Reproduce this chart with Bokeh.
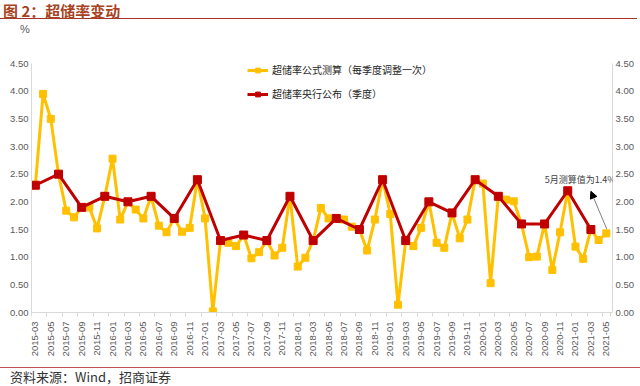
import math
from bokeh.plotting import figure
from bokeh.models import (Range1d, FixedTicker, LinearAxis, Legend, LegendItem,
                          Label, Arrow, NormalHead, Div)
from bokeh.layouts import column
from bokeh.embed import file_html
from bokeh.resources import INLINE

# ---------------- data ----------------
months = [f"{y}-{m:02d}" for y in range(2015, 2022) for m in range(1, 13)]
months = months[months.index("2015-03"):months.index("2021-05") + 1]

formula_rate = [
    2.30, 3.95, 3.50, 2.50, 1.84, 1.72, 1.90, 1.90, 1.52, 2.10,   # 2015-03..2015-12
    2.78, 1.68, 2.00, 1.86, 1.70, 2.10, 1.57, 1.45, 1.70, 1.46, 1.53, 2.40,  # 2016
    1.70, 0.02, 1.30, 1.26, 1.20, 1.40, 0.98, 1.09, 1.30, 1.03, 1.17, 2.10,  # 2017
    0.83, 0.99, 1.30, 1.89, 1.70, 1.70, 1.68, 1.55, 1.50, 1.12, 1.68, 2.40,  # 2018
    1.78, 0.14, 1.30, 1.20, 1.53, 2.00, 1.26, 1.17, 1.80, 1.34, 1.68, 2.40,  # 2019
    2.33, 0.53, 2.10, 2.04, 2.01, 1.60, 1.00, 1.01, 1.60, 0.77, 1.45, 2.20,  # 2020
    1.19, 0.97, 1.50, 1.31, 1.43,                                           # 2021
]

pboc_months = [
    "2015-03", "2015-06", "2015-09", "2015-12",
    "2016-03", "2016-06", "2016-09", "2016-12",
    "2017-03", "2017-06", "2017-09", "2017-12",
    "2018-03", "2018-06", "2018-09", "2018-12",
    "2019-03", "2019-06", "2019-09", "2019-12",
    "2020-03", "2020-06", "2020-09", "2020-12",
    "2021-03",
]
pboc_rate = [
    2.3, 2.5, 1.9, 2.1,
    2.0, 2.1, 1.7, 2.4,
    1.3, 1.4, 1.3, 2.1,
    1.3, 1.7, 1.5, 2.4,
    1.3, 2.0, 1.8, 2.4,
    2.1, 1.6, 1.6, 2.2,
    1.5,
]

y_ticks = [0.0, 0.5, 1.0, 1.5, 2.0, 2.5, 3.0, 3.5, 4.0, 4.5]

series1_name = "超储率公式测算（每季度调整一次）"
series2_name = "超储率央行公布（季度）"
title_text = "图 2：超储率变动"
source_text = "资料来源：Wind，招商证券"
note_text = "5月测算值为1.4%"
unit_text = "%"

# ---------------- figure ----------------
x1 = list(range(len(months)))
x2 = [months.index(m) for m in pboc_months]

YELLOW = "#FFC000"
RED = "#C00000"
GRAY = "#595959"
AXIS = "#D9D9D9"
CJK = "Noto Sans CJK SC"

p = figure(width=640, height=327, output_backend="svg", toolbar_location=None,
           x_range=Range1d(-0.5, 74.8), y_range=Range1d(0, 4.5),
           min_border_top=26, min_border_bottom=52, min_border_left=31,
           min_border_right=28)
p.outline_line_color = None
p.grid.visible = False
p.background_fill_color = "white"
p.border_fill_color = "white"

l1 = p.line(x1, formula_rate, line_color=YELLOW, line_width=3)
s1 = p.scatter(x1, formula_rate, marker="square", size=7,
               fill_color=YELLOW, line_color=YELLOW)
l2 = p.line(x2, pboc_rate, line_color=RED, line_width=3)
s2 = p.scatter(x2, pboc_rate, marker="square", size=8,
               fill_color=RED, line_color=RED)

even = list(range(0, len(months), 2))
xt = FixedTicker(ticks=even, minor_ticks=[i - 0.5 for i in even] + [len(months) - 0.5])
xa = p.xaxis[0]
xa.ticker = xt
xa.major_label_overrides = {i: months[i] for i in even}
xa.major_label_orientation = math.pi / 2
xa.major_label_text_font_size = "9.5px"
xa.major_label_text_font = "Liberation Sans"
xa.major_label_text_color = GRAY
xa.major_label_standoff = 5
xa.major_tick_out = 0
xa.major_tick_in = 0
xa.minor_tick_out = 4
xa.minor_tick_in = 0
xa.minor_tick_line_color = AXIS
xa.axis_line_color = AXIS

def style_y(ax):
    ax.ticker = FixedTicker(ticks=y_ticks)
    ax.major_label_overrides = {t: f"{t:.2f}" for t in y_ticks}
    ax.major_label_text_font_size = "9.5px"
    ax.major_label_text_font = "Liberation Sans"
    ax.major_label_text_color = GRAY
    ax.major_label_standoff = 3
    ax.major_tick_out = 0
    ax.major_tick_in = 0
    ax.minor_tick_out = 0
    ax.minor_tick_in = 0
    ax.axis_line_color = AXIS

style_y(p.yaxis[0])
ra = LinearAxis()
style_y(ra)
p.add_layout(ra, "right")

legend = Legend(items=[LegendItem(label=series1_name, renderers=[l1, s1]),
                       LegendItem(label=series2_name, renderers=[l2, s2])],
                location=(216, 211), orientation="vertical",
                border_line_color=None, background_fill_alpha=0,
                padding=0, margin=0, spacing=9,
                glyph_height=12, glyph_width=21, label_height=12,
                label_standoff=4, label_text_font_size="10px",
                label_text_font=CJK, label_text_color="#262626")
p.add_layout(legend)

p.add_layout(Arrow(end=NormalHead(size=7, fill_color="black", line_color="black"),
                   x_start=74.05, y_start=1.51, x_end=72.0, y_end=2.19,
                   line_color="#7F7F7F", line_width=1))
p.add_layout(Label(x=70.6, y=2.40, text=note_text, text_font_size="9px",
                   text_font=CJK, text_color="#404040",
                   text_align="center", text_baseline="middle"))

title_div = Div(width=640, height=37, margin=(0, 0, 0, 0), text=(
    '<div style="font-family:\'Noto Sans CJK SC\'; font-weight:bold; font-size:15px; '
    'color:#A8431F; line-height:22px; height:19px; padding-left:3px; '
    'border-bottom:1.5px solid #A3312A; width:637px;">' + title_text + '</div>'
    '<div style="margin-top:4px; padding-left:20px; font-family:\'Liberation Sans\'; '
    'font-size:11px; line-height:12px; height:12px; color:#595959;">' + unit_text + '</div>'))

footer_div = Div(width=640, height=22, margin=(0, 0, 0, 0), text=(
    '<div style="margin-top:3px; border-top:1px solid #C0504D; width:640px; '
    'padding-top:1px; padding-left:10px; font-family:\'Noto Sans CJK SC\'; font-size:13px; '
    'line-height:16px; color:#333333;">' + source_text + '</div>'))

layout = column(title_div, p, footer_div, spacing=0)

open("out.html", "w").write(file_html(layout, INLINE))
